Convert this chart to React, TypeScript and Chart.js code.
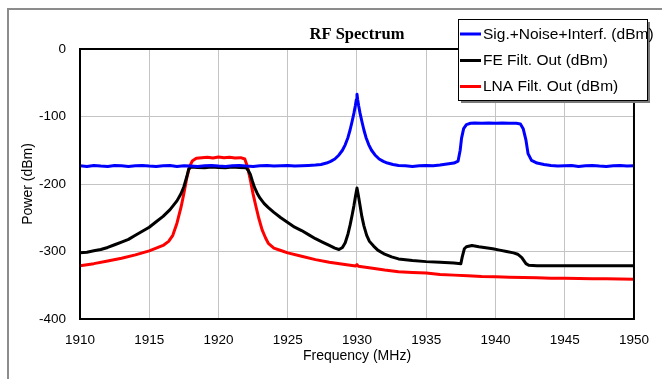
import React, { useEffect, useRef } from "react";
import { Chart, registerables } from "chart.js";

Chart.register(...registerables);

const chartTitle = "RF Spectrum";
const xTitle = "Frequency (MHz)";
const yTitle = "Power (dBm)";
const seriesNames = ["Sig.+Noise+Interf. (dBm)", "FE Filt. Out (dBm)", "LNA Filt. Out (dBm)"];
const seriesColors = ["#0000ff", "#000000", "#ff0000"];

const xMin = 1910;
const xMax = 1950;
const xStep = 5;
const yMin = -400;
const yMax = 0;
const yStep = 100;

const freqBlue = [
  1910, 1910.5, 1911, 1911.5, 1912, 1912.5, 1913, 1913.5, 1914, 1914.5, 1915, 1915.5, 1916, 1916.5, 1917, 1917.5,
  1918, 1918.5, 1919, 1919.5, 1920, 1920.5, 1921, 1921.5, 1922, 1922.5, 1923, 1923.5, 1924, 1924.5, 1925, 1925.5,
  1926, 1926.5, 1927, 1927.4, 1927.8, 1928.1, 1928.4, 1928.7, 1928.95, 1929.15, 1929.35, 1929.5, 1929.65, 1929.78,
  1929.88, 1929.95, 1930, 1930.05, 1930.12, 1930.22, 1930.35, 1930.5, 1930.65, 1930.85, 1931.05, 1931.3, 1931.6,
  1931.9, 1932.2, 1932.6, 1933, 1933.5, 1934, 1934.5, 1935, 1935.5,
  1936, 1936.5, 1937, 1937.3, 1937.45, 1937.55, 1937.7, 1937.9, 1938.2, 1938.5, 1939, 1939.5, 1940, 1940.5, 1941,
  1941.5, 1941.8, 1942.0, 1942.2, 1942.35, 1942.6, 1943, 1943.5, 1944, 1944.5, 1945, 1945.5, 1946, 1946.5, 1947,
  1947.5, 1948, 1948.5, 1949, 1949.5, 1950,
];
const powerBlue = [
  -173, -174, -172.5, -173.5, -174, -172.5, -173, -174, -173, -172.5, -173.5, -174, -173, -172.5, -174, -173,
  -173.5, -174, -173, -172.5, -173.5, -174, -173, -172.5, -173.5, -174, -173, -172.5, -173.5, -173, -172.5, -173.5,
  -173, -172.5, -172, -171, -169, -166.5, -163, -157, -150, -142, -131, -120, -107, -95,
  -84, -75, -67, -75, -84, -95, -107, -120, -131, -142, -150, -157, -163,
  -166.5, -169, -171, -172.5, -173, -174, -173, -172.5, -173,
  -172, -170.5, -169, -166, -150, -132, -118, -112, -110, -109.5, -110, -109.5, -110, -109.5, -110,
  -110, -111, -118, -135, -155, -165, -169, -171, -172.5, -173.5, -173, -172.5, -174, -173, -172.5,
  -173.5, -174, -173, -172.5, -173.5, -173,
];

const freqBlack = [
  1910, 1910.5, 1911, 1911.5, 1912, 1912.5, 1913, 1913.5, 1914, 1914.5, 1915, 1915.5, 1916, 1916.5, 1917, 1917.3,
  1917.5, 1917.7, 1917.85, 1918, 1918.5, 1919, 1919.5, 1920, 1920.5, 1921, 1921.5, 1922, 1922.15, 1922.3, 1922.45,
  1922.6, 1922.8, 1923, 1923.3, 1923.6, 1924, 1924.5, 1925, 1925.5, 1926, 1926.5, 1927, 1927.5, 1928, 1928.4,
  1928.7, 1928.95, 1929.15, 1929.35, 1929.5, 1929.65, 1929.78, 1929.9, 1930, 1930.1, 1930.22, 1930.35, 1930.5,
  1930.7, 1930.9, 1931.2, 1931.5, 1932, 1932.5,
  1933, 1934, 1935, 1936, 1937, 1937.5, 1937.6, 1937.75, 1937.9, 1938.3, 1938.8, 1939.3, 1939.8, 1940.3, 1940.8,
  1941.3, 1941.6, 1941.9, 1942.2, 1942.4, 1943, 1944, 1945, 1946, 1947, 1948, 1949, 1950,
];
const powerBlack = [
  -302, -301, -299, -297, -294, -290, -286, -282, -276, -270, -264, -256, -248, -238, -225, -214,
  -204, -190, -178, -175, -175.5, -176, -175, -175.5, -176, -175, -175.5, -176, -180, -186, -196,
  -205, -214, -221, -229, -235, -242, -250, -257, -264, -269, -275, -281, -286, -291, -295,
  -297, -294, -287, -274, -261, -246, -232, -217, -206, -217, -232, -248, -262,
  -276, -285, -292, -298, -304, -308,
  -311, -313.5, -315, -316, -317, -318, -308, -296, -293, -291, -293, -294.5, -296, -298, -300,
  -302, -304, -309, -318, -320.5, -321, -321, -321, -321, -321, -321, -321, -321,
];

const freqRed = [
  1910, 1911, 1912, 1913, 1914, 1915, 1915.5, 1916, 1916.4, 1916.7, 1917, 1917.3, 1917.5, 1917.7, 1917.9, 1918.1,
  1918.4, 1918.8, 1919.2, 1919.6, 1920, 1920.4, 1920.8, 1921.2, 1921.6, 1921.9, 1922.1, 1922.3, 1922.5, 1922.7,
  1922.9, 1923.15, 1923.4, 1923.6, 1924, 1924.5, 1925, 1926, 1927, 1928, 1929, 1929.9, 1930, 1930.1, 1931, 1932,
  1933, 1934, 1935, 1936, 1937, 1938, 1939, 1940, 1941, 1942, 1943, 1944, 1945, 1946, 1947, 1948, 1949, 1950,
];
const powerRed = [
  -321, -318, -314, -310, -305, -299, -295, -291, -285, -276, -258, -234, -214, -192, -175, -166,
  -162, -161, -160.5, -161.5, -160, -161, -160.5, -161.5, -161, -163, -175, -194, -215, -233,
  -250, -268, -280, -288, -295, -298.5, -302, -307, -312, -316, -319, -321.5, -319.5, -321.8, -324.5, -327.5,
  -330, -331, -332, -334, -335, -336, -337, -337.5, -338, -338.5, -339, -339.5, -339.8, -340, -340.3, -340.5, -340.7, -341,
];

const seriesFreqs = [freqBlue, freqBlack, freqRed];
const seriesPowers = [powerBlue, powerBlack, powerRed];

const framePlugin = {
  id: "plotFrame",
  afterDatasetsDraw(chart: any) {
    const { ctx, chartArea } = chart;
    ctx.save();
    ctx.strokeStyle = "#000";
    ctx.lineWidth = 2;
    ctx.strokeRect(chartArea.left, chartArea.top, chartArea.right - chartArea.left, chartArea.bottom - chartArea.top);
    ctx.restore();
  },
};

const boxLegendPlugin = {
  id: "boxLegend",
  afterDraw(chart: any) {
    const ctx = chart.ctx;
    const bx = 458;
    const by = 19;
    const bw = 189;
    const bh = 81;
    const rows = [34, 60.5, 86.5];
    ctx.save();
    ctx.fillStyle = "#7a7a7a";
    ctx.fillRect(bx + 3, by + 3, bw, bh);
    ctx.fillStyle = "#ffffff";
    ctx.fillRect(bx, by, bw, bh);
    ctx.strokeStyle = "#000";
    ctx.lineWidth = 1;
    ctx.strokeRect(bx + 0.5, by + 0.5, bw, bh);
    chart.data.datasets.forEach((ds: any, i: number) => {
      const y = rows[i];
      ctx.strokeStyle = ds.borderColor;
      ctx.lineWidth = 3;
      ctx.beginPath();
      ctx.moveTo(460, y);
      ctx.lineTo(481, y);
      ctx.stroke();
      ctx.fillStyle = "#000";
      ctx.font = "15.5px 'Liberation Sans', Arial, sans-serif";
      ctx.textBaseline = "middle";
      ctx.textAlign = "left";
      ctx.fillText(ds.label, 483, y + 0.5);
    });
    ctx.restore();
  },
};

export default function App() {
  const canvasRef = useRef<HTMLCanvasElement | null>(null);

  useEffect(() => {
    if (!canvasRef.current) return;
    const datasets = seriesNames.map((name, i) => ({
      label: name,
      data: seriesFreqs[i].map((f, j) => ({ x: f, y: seriesPowers[i][j] })),
      borderColor: seriesColors[i],
      backgroundColor: seriesColors[i],
      borderWidth: 3,
      borderJoinStyle: "round",
      borderCapStyle: "round",
      pointRadius: 0,
      tension: 0,
      fill: false,
      order: i,
    }));
    const chart = new Chart(canvasRef.current, {
      type: "line",
      data: { datasets },
      plugins: [framePlugin, boxLegendPlugin],
      options: {
        animation: false,
        responsive: false,
        devicePixelRatio: 1,
        layout: { padding: { left: 0, right: 28, top: 0, bottom: 0 } },
        plugins: {
          legend: { display: false },
          tooltip: { enabled: false },
          title: {
            display: true,
            text: chartTitle,
            fullSize: false,
            color: "#000",
            font: { family: "'Liberation Serif', 'Times New Roman', serif", size: 16.5, weight: "bold" },
            padding: { top: 25, bottom: 4.2 },
          },
        },
        scales: {
          x: {
            type: "linear",
            min: xMin,
            max: xMax,
            afterFit: (s: any) => {
              s.height = 60;
            },
            ticks: {
              stepSize: xStep,
              autoSkip: false,
              padding: 13,
              color: "#000",
              font: { family: "'Liberation Sans', Arial, sans-serif", size: 13.5 },
              callback: (v: any) => String(v),
            },
            grid: { color: "#c4c4c4", lineWidth: 1, drawTicks: false },
            border: { display: false },
            title: {
              display: true,
              text: xTitle,
              color: "#000",
              font: { family: "'Liberation Sans', Arial, sans-serif", size: 14 },
              padding: { top: 0, bottom: 14.6 },
            },
          },
          y: {
            type: "linear",
            min: yMin,
            max: yMax,
            afterFit: (s: any) => {
              s.width = 80;
            },
            ticks: {
              stepSize: yStep,
              padding: 14,
              color: "#000",
              font: { family: "'Liberation Sans', Arial, sans-serif", size: 13.5 },
              callback: (v: any) => String(v),
            },
            grid: { color: "#c4c4c4", lineWidth: 1, drawTicks: false },
            border: { display: false },
            title: {
              display: true,
              text: yTitle,
              color: "#000",
              font: { family: "'Liberation Sans', Arial, sans-serif", size: 14 },
              padding: { top: 19.5, bottom: 0 },
            },
          },
        },
      },
    } as any);
    return () => chart.destroy();
  }, []);

  return (
    <div style={{ position: "fixed", left: 0, top: 0, width: 662, height: 379, overflow: "hidden", background: "#fff" }}>
      <div
        style={{
          position: "absolute",
          left: 7,
          top: 8,
          width: 720,
          height: 420,
          borderLeft: "2px solid #8c8c8c",
          borderTop: "2px solid #8c8c8c",
        }}
      />
      <canvas
        ref={canvasRef}
        width={662}
        height={379}
        style={{ position: "absolute", left: 0, top: 0, width: 662, height: 379 }}
      />
    </div>
  );
}
